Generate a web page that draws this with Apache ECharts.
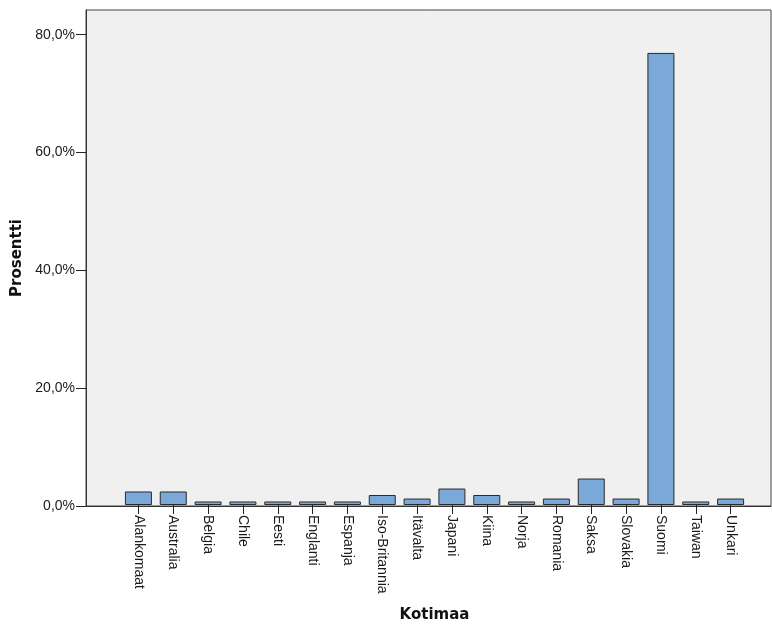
<!DOCTYPE html>
<html>
<head>
<meta charset="utf-8">
<script src="https://cdn.jsdelivr.net/npm/echarts@6/dist/echarts.min.js"></script>
<style>html,body{margin:0;padding:0;background:#fff}#c{width:772px;height:628px}</style>
</head>
<body>
<div id="c"></div>
<script>
const categories = ['Alankomaat','Australia','Belgia','Chile','Eesti','Englanti','Espanja','Iso-Britannia','Itävalta','Japani','Kiina','Norja','Romania','Saksa','Slovakia','Suomi','Taiwan','Unkari'];
const values = [2.3,2.3,0.6,0.6,0.6,0.6,0.6,1.7,1.1,2.8,1.7,0.6,1.1,4.5,1.1,76.9,0.6,1.1];
const yTicks = [0,20,40,60,80];
const yMax = 84.2;

const chart = echarts.init(document.getElementById('c'), null, {renderer:'canvas'});
const labelFont = {fontFamily:'Liberation Sans', fontSize:14, color:'#1a1a1a'};
chart.setOption({
  animation:false,
  backgroundColor:'#fff',
  grid:[
    {left:86, right:1, top:10, bottom:122, show:true, backgroundColor:'#f0f0f0', borderColor:'#444', borderWidth:1},
    {left:121, right:24, top:10, bottom:122}
  ],
  xAxis:[
    {type:'value', gridIndex:0, min:0, max:1, axisLine:{show:true, lineStyle:{color:'#333'}}, axisTick:{show:false}, axisLabel:{show:false}, splitLine:{show:false}},
    {type:'category', gridIndex:1, data:categories, axisLine:{show:false},
     axisTick:{show:true, alignWithLabel:true, length:9, lineStyle:{color:'#222'}},
     axisLabel:Object.assign({rotate:-90, interval:0, margin:10}, labelFont),
     name:'Kotimaa', nameLocation:'middle', nameGap:103,
     nameTextStyle:{fontFamily:'DejaVu Sans', fontWeight:'bold', fontSize:15, color:'#111'}}
  ],
  yAxis:[
    {type:'value', gridIndex:0, min:0, max:yMax,
     axisLine:{show:true, lineStyle:{color:'#333'}},
     axisTick:{show:true, length:10, customValues:yTicks, lineStyle:{color:'#222'}},
     axisLabel:Object.assign({customValues:yTicks, margin:11, formatter:v=>v.toFixed(1).replace('.',',')+'%'}, labelFont),
     splitLine:{show:false},
     name:'Prosentti', nameLocation:'middle', nameGap:58,
     nameTextStyle:{fontFamily:'DejaVu Sans', fontWeight:'bold', fontSize:15, color:'#111'}},
    {type:'value', gridIndex:1, min:0, max:yMax, show:false, splitLine:{show:false}}
  ],
  series:[{
    type:'bar', xAxisIndex:1, yAxisIndex:1, data:values, barWidth:27,
    itemStyle:{color:'#79a8d9', borderColor:'#2a2a2a', borderWidth:1}
  }]
});
</script>
</body>
</html>
